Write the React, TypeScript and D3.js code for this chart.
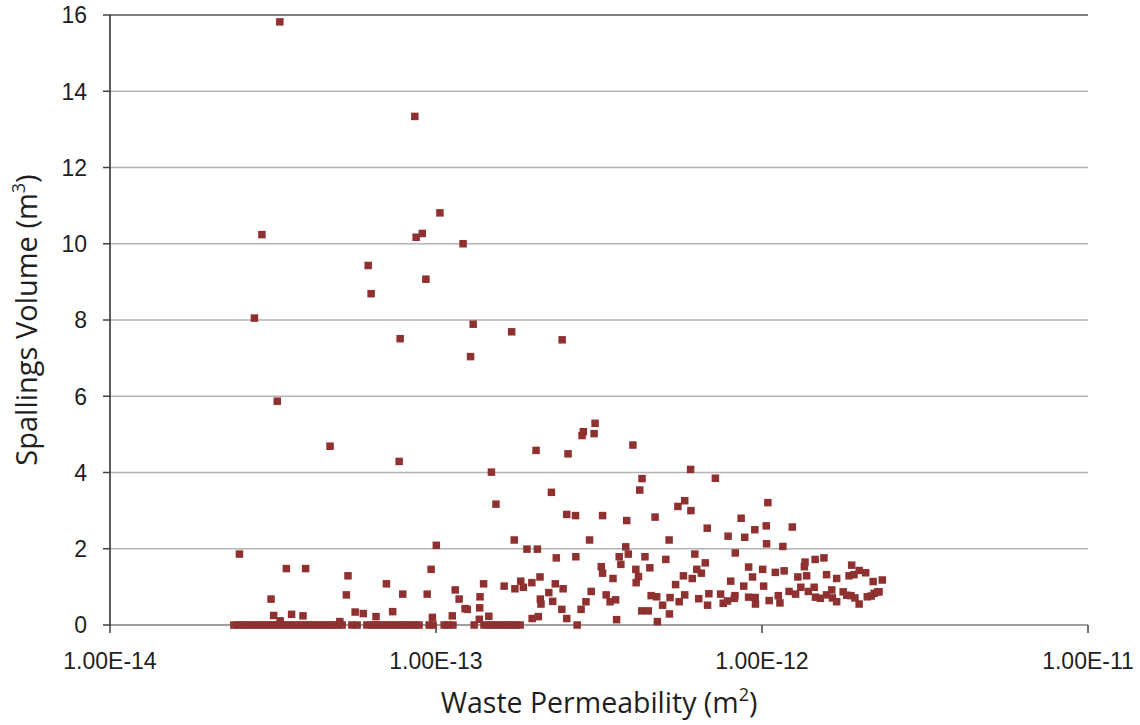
import React from "react";
import * as d3 from "d3";

// Sampled log10 waste permeability (m^2) and resulting spallings volume (m^3)
const sampledLogPermeability: number[] = [
  -13.479, -13.065, -12.988, -13.534, -13.061, -13.042, -12.917, -13.208, -13.031, -13.199,
  -13.557, -12.886, -12.768, -13.110, -12.894, -12.613, -13.487, -13.325, -13.113, -12.693,
  -12.830, -13.603, -13.459, -13.400, -13.506, -13.498, -13.443, -13.408, -13.478, -13.270,
  -13.275, -13.248, -13.223, -13.295, -13.184, -13.152, -13.133, -13.102, -12.816, -12.999,
  -13.015, -13.027, -13.011, -12.941, -12.929, -12.911, -12.904, -12.854, -12.865, -12.866,
  -12.950, -12.838, -12.867,
  -12.512, -12.548, -12.552, -12.515, -12.595, -12.396, -12.219, -12.143, -12.368, -12.375,
  -12.646, -11.982, -12.237, -12.258, -12.218, -12.599, -12.572, -12.489, -12.328, -12.415,
  -12.064, -12.168, -12.104, -12.053, -12.022, -11.987, -11.986, -12.760, -12.285, -12.529,
  -12.721, -12.689, -12.418, -12.410, -12.631, -12.571, -12.438, -12.433, -12.359, -12.295,
  -12.206, -12.174, -12.082, -12.041, -11.998, -11.959, -12.493, -12.489, -12.457, -12.387,
  -12.379, -12.386, -12.344, -12.200, -12.186, -12.214, -12.241, -12.029, -12.096, -12.056,
  -11.995, -12.265, -12.791, -12.758, -12.740, -12.732, -12.706, -12.681, -12.680, -12.678,
  -12.654, -12.634, -12.642, -12.610, -12.614, -12.599, -12.524, -12.540, -12.555, -12.478,
  -12.466, -12.449, -12.446, -12.705, -12.686,
  -11.936, -11.907, -11.932, -11.868, -11.870, -11.863, -11.890, -11.837, -11.810, -11.802,
  -11.771, -11.725, -11.718, -11.702, -11.682, -11.733, -11.659, -11.631, -11.641, -11.665,
  -11.656,
  -12.369, -12.349, -12.340, -12.323, -12.321, -12.305, -12.284, -12.282, -12.254, -12.237,
  -12.194, -12.163, -12.167, -12.127, -12.119, -12.106, -12.083, -12.085, -12.041, -12.021,
  -12.020, -11.978, -11.950, -11.945, -11.917, -11.897, -11.881, -11.858, -11.840, -11.836,
  -11.821, -11.802, -11.786, -11.784, -11.771, -11.751, -11.740, -11.727, -11.715, -11.702,
  -11.677, -11.645,
];

const sampledVolume: number[] = [
  15.82, 13.34, 10.81, 10.24, 10.17, 10.27, 10.0, 9.43, 9.07, 8.69,
  8.05, 7.89, 7.69, 7.51, 7.04, 7.48, 5.87, 4.69, 4.29, 4.58,
  4.01, 1.86, 1.48, 1.48, 0.68, 0.25, 0.28, 0.24, 0.11, 1.29,
  0.79, 0.34, 0.3, 0.09, 0.22, 1.08, 0.35, 0.81, 3.17, 2.09,
  1.46, 0.81, 0.2, 0.92, 0.68, 0.43, 0.41, 1.08, 0.74, 0.45,
  0.24, 0.23, 0.15,
  5.29, 5.07, 4.97, 5.02, 4.49, 4.72, 4.08, 3.85, 3.84, 3.54,
  3.48, 3.21, 3.26, 3.11, 3.0, 2.9, 2.87, 2.87, 2.83, 2.74,
  2.8, 2.54, 2.33, 2.3, 2.5, 2.6, 2.13, 2.23, 2.23, 2.23,
  1.99, 1.99, 2.05, 1.86, 1.76, 1.79, 1.79, 1.59, 1.79, 1.72,
  1.86, 1.63, 1.89, 1.52, 1.46, 1.38, 1.53, 1.36, 1.22, 1.46,
  1.27, 1.11, 1.5, 1.46, 1.36, 1.22, 1.29, 1.26, 1.15, 1.02,
  1.02, 1.06, 1.02, 0.95, 1.15, 0.99, 1.11, 1.26, 0.68, 0.55,
  0.85, 1.08, 0.62, 0.95, 0.41, 0.17, 0.88, 0.61, 0.41, 0.79,
  0.61, 0.66, 0.14, 0.17, 0.22,
  2.06, 2.57, 1.42, 1.65, 1.53, 1.29, 1.26, 1.72, 1.76, 1.32,
  1.22, 1.57, 1.32, 1.43, 1.37, 1.29, 1.14, 1.18, 0.87, 0.76,
  0.83,
  0.37, 0.37, 0.77, 0.74, 0.09, 0.52, 0.29, 0.72, 0.61, 0.79,
  0.69, 0.82, 0.52, 0.81, 0.57, 0.63, 0.77, 0.7, 0.73, 0.72,
  0.55, 0.64, 0.77, 0.58, 0.88, 0.81, 0.99, 0.88, 0.99, 0.73,
  0.7, 0.79, 0.92, 0.71, 0.61, 0.87, 0.78, 0.77, 0.71, 0.55,
  0.74, 0.87,
];

// Log10 permeabilities of the realizations that produced no spallings
const zeroVolumeLogPermeability: number[] = [
  -13.620, -13.607, -13.595, -13.583, -13.571, -13.558, -13.546, -13.534, -13.521, -13.509,
  -13.497, -13.485, -13.472, -13.460, -13.448, -13.436, -13.423, -13.411, -13.399, -13.387,
  -13.374, -13.362, -13.350, -13.337, -13.325, -13.313, -13.301, -13.288,
  -13.258, -13.242,
  -13.212, -13.199, -13.187, -13.175, -13.163, -13.150, -13.138, -13.126, -13.113, -13.101,
  -13.089, -13.077, -13.064, -13.052,
  -13.021, -13.009, -12.975, -12.963, -12.948,
  -12.883, -12.853, -12.840, -12.828, -12.816, -12.804, -12.791, -12.779, -12.767, -12.755,
  -12.742, -12.567,
];

const volumeTicks: number[] = [0, 2, 4, 6, 8, 10, 12, 14, 16];
const permeabilityTicks: number[] = [1e-14, 1e-13, 1e-12, 1e-11];

const WIDTH = 1140;
const HEIGHT = 725;
const PLOT = { left: 110, right: 1088, top: 15, bottom: 625 };
const TITLE_FONT = "'Open Sans', 'Liberation Sans', sans-serif";
const TICK_FONT = "'Liberation Sans', Arial, sans-serif";
const TEXT = "#1f1f1f";
const MARKER = "#8f3130";
const MARKER_SIZE = 7.5;

const formatSci = (v: number) => `1.00E${Math.round(Math.log10(v))}`;

export default function App() {
  const x = d3
    .scaleLog()
    .domain([permeabilityTicks[0], permeabilityTicks[permeabilityTicks.length - 1]])
    .range([PLOT.left, PLOT.right]);
  const y = d3.scaleLinear().domain([0, 16]).range([PLOT.bottom, PLOT.top]);

  const points = [
    ...zeroVolumeLogPermeability.map((lk) => ({ k: Math.pow(10, lk), v: 0 })),
    ...sampledLogPermeability.map((lk, i) => ({ k: Math.pow(10, lk), v: sampledVolume[i] })),
  ];

  return (
    <svg
      width={WIDTH}
      height={HEIGHT}
      style={{ position: "absolute", left: 0, top: 0, background: "#fff" }}
      fontFamily={TITLE_FONT}
    >
      {/* horizontal gridlines */}
      {volumeTicks
        .filter((t) => t > 0)
        .map((t) => (
          <line
            key={`g${t}`}
            x1={PLOT.left}
            x2={PLOT.right}
            y1={y(t)}
            y2={y(t)}
            stroke={t === 16 ? "#7f7f7f" : "#b3b3b3"}
            strokeWidth={t === 16 ? 2 : 1.5}
          />
        ))}

      {/* x axis */}
      <line x1={PLOT.left} x2={PLOT.right} y1={y(0)} y2={y(0)} stroke="#7f7f7f" strokeWidth={1.5} />
      {permeabilityTicks.map((t) => (
        <g key={`x${t}`}>
          <line x1={x(t)} x2={x(t)} y1={y(0)} y2={y(0) + 8} stroke="#404040" strokeWidth={1.5} />
          <text x={x(t)} y={669} textAnchor="middle" fontSize={23} fontFamily={TICK_FONT} fill={TEXT}>
            {formatSci(t)}
          </text>
        </g>
      ))}

      {/* y axis */}
      <line x1={PLOT.left} x2={PLOT.left} y1={PLOT.top} y2={PLOT.bottom} stroke="#262626" strokeWidth={1.5} />
      {volumeTicks.map((t) => (
        <g key={`y${t}`}>
          <line x1={PLOT.left - 7} x2={PLOT.left} y1={y(t)} y2={y(t)} stroke="#404040" strokeWidth={1.5} />
          <text
            x={87}
            y={y(t)}
            dy="0.36em"
            textAnchor="end"
            fontSize={23}
            fontFamily={TICK_FONT}
            fill={TEXT}
          >
            {t}
          </text>
        </g>
      ))}

      {/* markers */}
      <g fill={MARKER}>
        {points.map((p, i) => (
          <rect
            key={i}
            x={x(p.k) - MARKER_SIZE / 2}
            y={y(p.v) - MARKER_SIZE / 2}
            width={MARKER_SIZE}
            height={MARKER_SIZE}
          />
        ))}
      </g>

      {/* axis titles */}
      <text x={(PLOT.left + PLOT.right) / 2} y={713} textAnchor="middle" fontSize={28.5} fill={TEXT}>
        Waste Permeability (m
        <tspan fontSize={18} dy={-12}>
          2
        </tspan>
        <tspan dy={12}>)</tspan>
      </text>
      <text
        transform={`translate(37, ${(PLOT.top + PLOT.bottom) / 2}) rotate(-90)`}
        textAnchor="middle"
        fontSize={29}
        fill={TEXT}
      >
        Spallings Volume (m
        <tspan fontSize={18} dy={-12}>
          3
        </tspan>
        <tspan dy={12}>)</tspan>
      </text>
    </svg>
  );
}
